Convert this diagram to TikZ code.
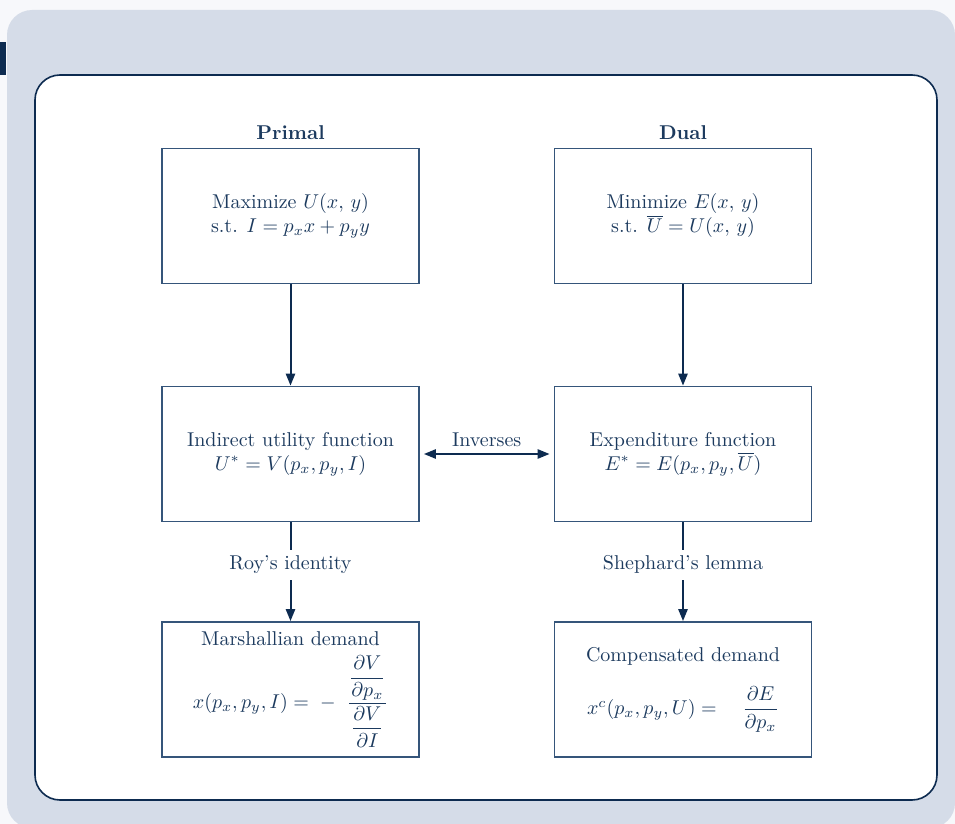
\documentclass[tikz,border=0pt]{standalone}
\usepackage{amsmath}
\usetikzlibrary{arrows.meta,calc}

\definecolor{pagebg}{HTML}{F7F8FB}
\definecolor{panelbg}{HTML}{D5DCE8}
\definecolor{navy}{HTML}{0D2B50}
\definecolor{boxline}{HTML}{35557A}
\definecolor{ink}{HTML}{1C3A5E}

\begin{document}
\begin{tikzpicture}[x=0.5pt, y=-0.5pt, >={Triangle[length=6pt,width=4.6pt]},
    box/.style={draw=boxline, line width=0.9pt, minimum width=128.5pt,
        minimum height=67.5pt, align=center, text=ink, inner sep=2pt},
    head/.style={text=ink, font=\bfseries},
    conn/.style={navy, line width=1pt},
    lbl/.style={fill=white, text=ink, inner sep=3pt}]
    % Parameters
    \def\colL{290.5}
    \def\colR{683}
    \def\rowA{216}
    \def\rowB{454}
    \def\rowC{689.5}

    % Page, panel and frame
    \useasboundingbox (0,0) rectangle (955,824);
    \fill[pagebg] (0,0) rectangle (955,824);
    \fill[panelbg, rounded corners=12.5pt] (7,10) rectangle (955,828);
    \fill[navy] (0,42) rectangle (6,75);
    \draw[navy, line width=0.8pt, fill=white, rounded corners=12.5pt] (35,75) rectangle (937,800);

    % Column heads
    \node[head] (primal) at (\colL,133) {Primal};
    \node[head] (dual) at (\colR,133) {Dual};

    % Problems
    \node[box] (maxU) at (\colL,\rowA) {Maximize $U(x,\, y)$\\ s.t. $I = p_x x + p_y y$};
    \node[box] (minE) at (\colR,\rowA) {Minimize $E(x,\, y)$\\ s.t. $\overline{U} = U(x,\, y)$};

    % Value functions
    \node[box] (indirect) at (\colL,\rowB) {Indirect utility function\\ $U^{*} = V(p_x, p_y, I)$};
    \node[box] (expend) at (\colR,\rowB) {Expenditure function\\ $E^{*} = E(p_x, p_y, \overline{U})$};

    % Demands
    \node[box] (marsh) at (\colL,\rowC) {Marshallian demand\\[4pt]
        $x(p_x, p_y, I) = \;-\;\; \dfrac{\dfrac{\partial V}{\partial p_x}}{\dfrac{\partial V}{\partial I}}$};
    \node[box] (hicks) at (\colR,\rowC) {Compensated demand\\[10pt]
        $x^{c}(p_x, p_y, U) = \quad \dfrac{\partial E}{\partial p_x}$};

    % Connectors
    \draw[conn, ->] (maxU) -- (indirect);
    \draw[conn, ->] (minE) -- (expend);
    \draw[conn, <->, shorten <=2pt, shorten >=2pt] (indirect) -- node[above, text=ink, inner sep=3pt] (inv) {Inverses} (expend);
    \draw[conn, ->] (indirect) -- node[lbl, pos=0.43] (roy) {Roy’s identity} (marsh);
    \draw[conn, ->] (expend) -- node[lbl, pos=0.43] (shep) {Shephard’s lemma} (hicks);
\end{tikzpicture}
\end{document}
